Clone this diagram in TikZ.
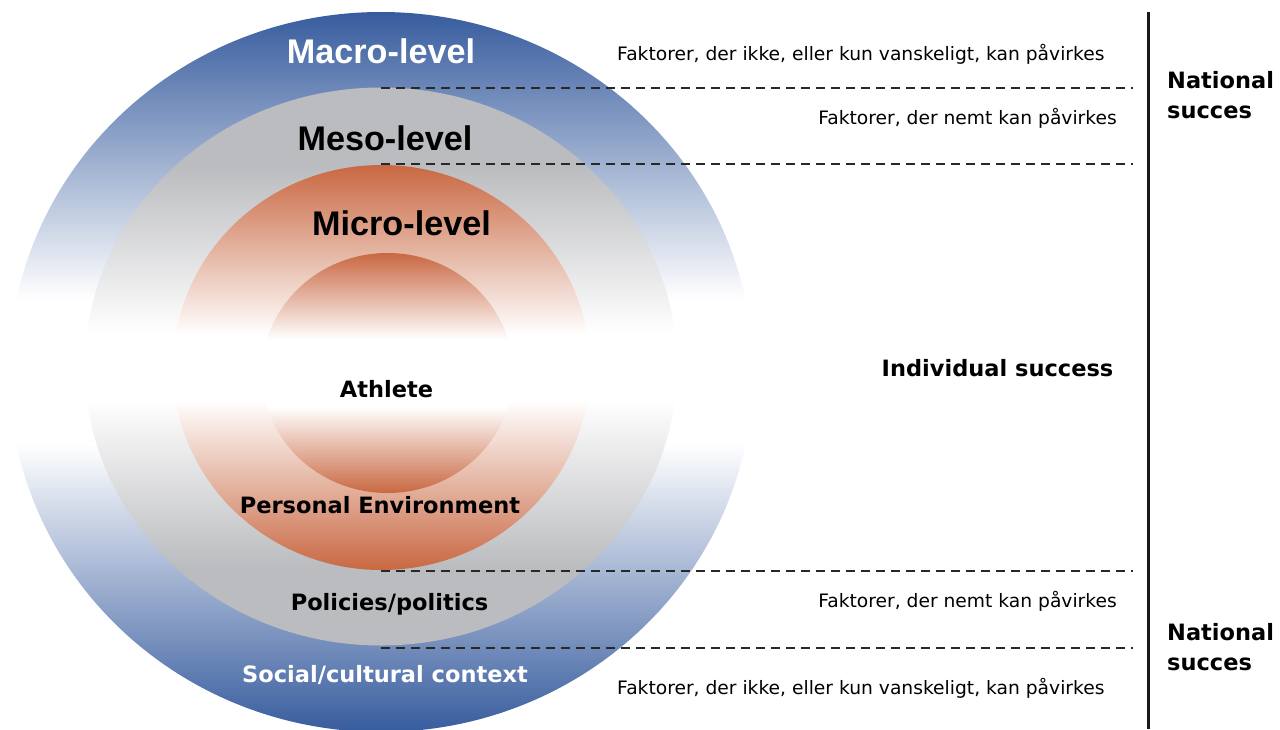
\documentclass[tikz,border=0pt]{standalone}
\usepackage{fontspec}
\usepackage{graphicx}
\newfontfamily\arialfont{Liberation Sans}
\newfontfamily\verdfont{DejaVu Sans}
\definecolor{ringblue}{RGB}{55,92,158}
\definecolor{ringgray}{RGB}{187,188,191}
\definecolor{ringorange}{RGB}{201,104,66}
\definecolor{dashgray}{RGB}{40,40,40}
\pgfdeclareverticalshading{macroshade}{100bp}{color(0bp)=(ringblue); color(25bp)=(ringblue); color(45bp)=(white); color(55bp)=(white); color(75bp)=(ringblue); color(100bp)=(ringblue)}
\pgfdeclareverticalshading{mesoshade}{100bp}{color(0bp)=(ringgray); color(25bp)=(ringgray); color(32bp)=(ringgray); color(47bp)=(white); color(53bp)=(white); color(68bp)=(ringgray); color(75bp)=(ringgray); color(100bp)=(ringgray)}
\pgfdeclareverticalshading{microshade}{100bp}{color(0bp)=(ringorange); color(25bp)=(ringorange); color(46bp)=(white); color(54bp)=(white); color(75bp)=(ringorange); color(100bp)=(ringorange)}
\pgfdeclareverticalshading{athleteshade}{100bp}{color(0bp)=(ringorange); color(25bp)=(ringorange); color(43bp)=(white); color(57bp)=(white); color(75bp)=(ringorange); color(100bp)=(ringorange)}
\tikzset{
  lvl/.style={font=\arialfont\bfseries\fontsize{34.2}{40}\selectfont, inner sep=0pt, anchor=base},
  lbl/.style={font=\verdfont\bfseries\fontsize{22.5}{26}\selectfont, inner sep=0pt, anchor=base},
  fak/.style={font=\verdfont\fontsize{18.5}{22}\selectfont, inner sep=0pt},
  sepline/.style={draw=dashgray, line width=1.9pt, dash pattern=on 9pt off 6pt},
  vline/.style={draw=black!90, line width=3pt},
}
\begin{document}
\begin{tikzpicture}[x=1pt,y=-1pt]
\useasboundingbox (0,0) rectangle (1280,729);
\fill[white] (0,0) rectangle (1280,729);
\begin{scope}
\clip (0,0) rectangle (1280,729);
\shade[shading=macroshade] (381,372) ellipse [x radius=372pt, y radius=360pt];
\end{scope}
\shade[shading=mesoshade] (381,366.5) ellipse [x radius=296pt, y radius=279pt];
\shade[shading=microshade] (381.5,367.5) ellipse [x radius=208.5pt, y radius=202.5pt];
\shade[shading=athleteshade] (387.5,373) ellipse [x radius=125.5pt, y radius=120pt];

% dashed separators
\coordinate (d1a) at (381,88);  \coordinate (d1b) at (1133,88);
\coordinate (d2a) at (381,164); \coordinate (d2b) at (1133,164);
\coordinate (d3a) at (381,571); \coordinate (d3b) at (1133,571);
\coordinate (d4a) at (381,648); \coordinate (d4b) at (1133,648);
\draw[sepline] (d1a) -- (d1b);
\draw[sepline] (d2a) -- (d2b);
\draw[sepline] (d3a) -- (d3b);
\draw[sepline] (d4a) -- (d4b);

% vertical bar
\coordinate (vtop) at (1148,12);
\coordinate (vbot) at (1148,729);
\draw[vline] (vtop) -- (vbot);

% level titles
\node[lvl, text=white] (macro) at (381,63) {Macro-level};
\node[lvl] (meso) at (385,150) {Meso-level};
\node[lvl] (micro) at (401.5,235) {Micro-level};

% inner labels
\node[lbl] (athlete) at (386.5,397) {Athlete};
\node[lbl] (personal) at (380,513) {Personal Environment};
\node[lbl] (policies) at (389.5,610) {Policies/politics};
\node[lbl, text=white] (social) at (385,682) {Social/cultural context};

% right side
\node[lbl] (indiv) at (997.5,376) {Individual success};
\node[lbl, anchor=base west] (nat1) at (1167,88) {National};
\node[lbl, anchor=base west] (suc1) at (1167,118) {succes};
\node[lbl, anchor=base west] (nat2) at (1167,640) {National};
\node[lbl, anchor=base west] (suc2) at (1167,670) {succes};

\node[fak, anchor=base west] (fak1) at (617,60) {\scalebox{1.01}[1]{Faktorer, der ikke, eller kun vanskeligt, kan påvirkes}};
\node[fak, anchor=base east] (fak2) at (1117,124) {\scalebox{1.01}[1]{Faktorer, der nemt kan påvirkes}};
\node[fak, anchor=base east] (fak3) at (1117,607) {\scalebox{1.01}[1]{Faktorer, der nemt kan påvirkes}};
\node[fak, anchor=base west] (fak4) at (617,694) {\scalebox{1.01}[1]{Faktorer, der ikke, eller kun vanskeligt, kan påvirkes}};
\end{tikzpicture}
\end{document}
